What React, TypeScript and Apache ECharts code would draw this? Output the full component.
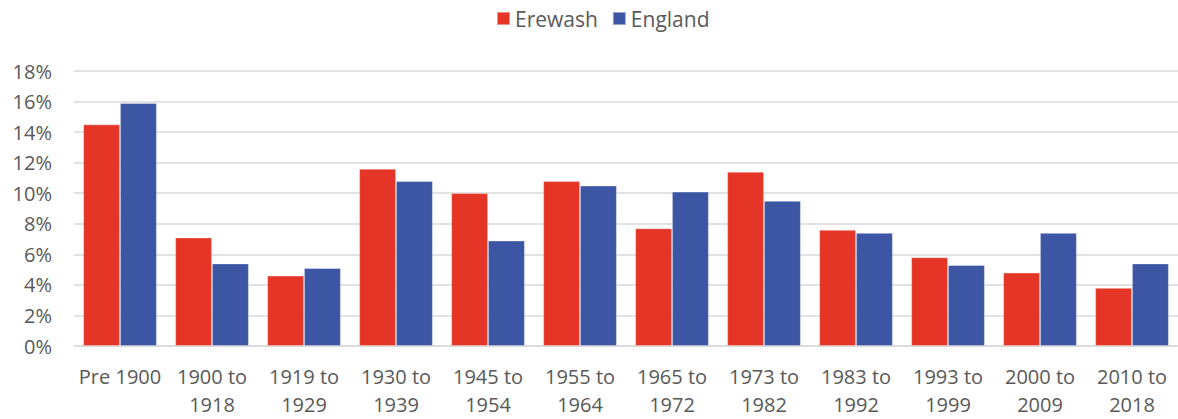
import React, { useEffect, useRef } from "react";
import * as echarts from "echarts";

const categories = [
  "Pre 1900",
  "1900 to\n1918",
  "1919 to\n1929",
  "1930 to\n1939",
  "1945 to\n1954",
  "1955 to\n1964",
  "1965 to\n1972",
  "1973 to\n1982",
  "1983 to\n1992",
  "1993 to\n1999",
  "2000 to\n2009",
  "2010 to\n2018",
];

const erewash = [14.5, 7.1, 4.6, 11.6, 10.0, 10.8, 7.7, 11.4, 7.6, 5.8, 4.8, 3.8];
const england = [15.9, 5.4, 5.1, 10.8, 6.9, 10.5, 10.1, 9.5, 7.4, 5.3, 7.4, 5.4];

const RED = "#E43526";
const BLUE = "#3C56A3";
const TEXT = "#595959";
const FONT = "'Open Sans', sans-serif";

export default function App() {
  const ref = useRef<HTMLDivElement>(null);

  useEffect(() => {
    document.body.style.margin = "0";
    if (!ref.current) return;
    const chart = echarts.init(ref.current, null, { renderer: "svg" });
    chart.setOption({
      animation: false,
      textStyle: { fontFamily: FONT },
      legend: {
        top: 7,
        left: 496,
        padding: 0,
        icon: "rect",
        itemWidth: 13,
        itemHeight: 13,
        itemGap: 14,
        textStyle: { color: TEXT, fontSize: 21, fontFamily: FONT, lineHeight: 23 },
        data: ["Erewash", "England"],
      },
      grid: { left: 74, right: 0, top: 71, bottom: 73, containLabel: false },
      xAxis: {
        type: "category",
        data: categories,
        axisLine: { lineStyle: { color: "#d9d9d9", width: 1.5 } },
        axisTick: { show: false },
        axisLabel: {
          color: TEXT,
          fontSize: 20,
          fontFamily: FONT,
          lineHeight: 28,
          margin: 16,
          interval: 0,
        },
      },
      yAxis: {
        type: "value",
        min: 0,
        max: 18,
        interval: 2,
        axisLine: { show: false },
        axisTick: { show: false },
        splitLine: { lineStyle: { color: "#d9d9d9", width: 1.5 } },
        axisLabel: {
          color: TEXT,
          fontSize: 20,
          fontFamily: FONT,
          margin: 22,
          formatter: "{value}%",
        },
      },
      series: [
        {
          name: "Erewash",
          type: "bar",
          data: erewash,
          barGap: "0%",
          barCategoryGap: "20%",
          itemStyle: { color: RED, borderColor: "rgba(255,255,255,0.45)", borderWidth: 0.8 },
        },
        {
          name: "England",
          type: "bar",
          data: england,
          barGap: "0%",
          barCategoryGap: "20%",
          itemStyle: { color: BLUE, borderColor: "rgba(255,255,255,0.45)", borderWidth: 0.8 },
        },
      ],
    });
    return () => chart.dispose();
  }, []);

  return <div ref={ref} style={{ width: 1178, height: 419 }} />;
}
